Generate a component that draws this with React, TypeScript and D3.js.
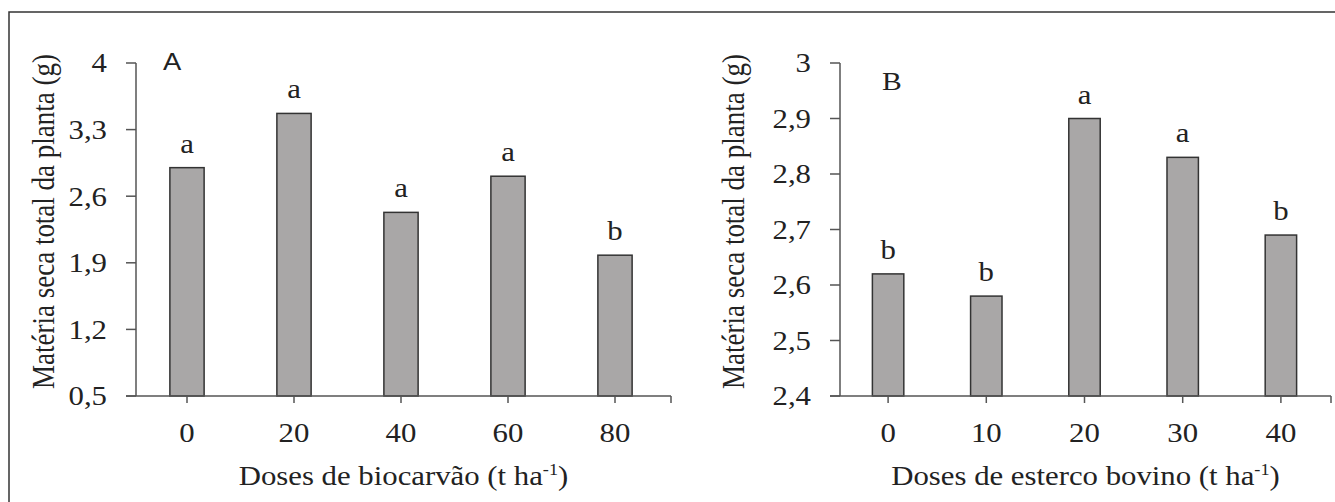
import * as d3 from "d3";
import type { ReactNode } from "react";

const dosesA = ["0", "20", "40", "60", "80"];
const valuesA = [2.9, 3.47, 2.43, 2.81, 1.98];
const lettersA = ["a", "a", "a", "a", "b"];
const ticksA = [0.5, 1.2, 1.9, 2.6, 3.3, 4];

const dosesB = ["0", "10", "20", "30", "40"];
const valuesB = [2.62, 2.58, 2.9, 2.83, 2.69];
const lettersB = ["b", "b", "a", "a", "b"];
const ticksB = [2.4, 2.5, 2.6, 2.7, 2.8, 2.9, 3];

const FONT = "'Liberation Serif', 'Times New Roman', serif";
const TOP = 63;
const BOTTOM = 396;
const FS = 27;
const SX = 1.14; // source image is slightly stretched horizontally

const fmt = (d: number) => String(d).replace(".", ",");

// text drawn at (x, y) with the horizontal stretch of the source picture
function T({
  x,
  y,
  anchor = "start",
  size = FS,
  dy,
  family,
  children,
}: {
  x: number;
  y: number;
  anchor?: string;
  size?: number;
  dy?: string;
  family?: string;
  children: ReactNode;
}) {
  return (
    <text
      transform={`translate(${x},${y}) scale(${SX},1)`}
      textAnchor={anchor}
      fontSize={size}
      dy={dy}
      fontFamily={family}
    >
      {children}
    </text>
  );
}

function Panel({
  doses,
  values,
  letters,
  ticks,
  axisX,
  range,
  axisEnd,
  yTitleX,
  xTitle,
  tag,
  tagX,
  tagY,
  tagSans,
}: {
  doses: string[];
  values: number[];
  letters: string[];
  ticks: number[];
  axisX: number;
  range: [number, number];
  axisEnd: number;
  yTitleX: number;
  xTitle: string;
  tag: string;
  tagX: number;
  tagY: number;
  tagSans: boolean;
}) {
  const x = d3.scaleBand().domain(doses).range(range).paddingInner(0.68).paddingOuter(0.34);
  const y = d3
    .scaleLinear()
    .domain([ticks[0], ticks[ticks.length - 1]])
    .range([BOTTOM, TOP]);
  const axisColor = "#555";
  const midX = (axisX + axisEnd) / 2;

  return (
    <g fontFamily={FONT} fill="#222">
      {/* y axis */}
      <line x1={axisX} x2={axisX} y1={TOP} y2={BOTTOM} stroke={axisColor} strokeWidth={1.5} />
      {ticks.map((t) => (
        <g key={t}>
          <line x1={axisX - 10} x2={axisX} y1={y(t)} y2={y(t)} stroke={axisColor} strokeWidth={1.5} />
          <T x={axisX - 29} y={y(t)} dy="0.35em" anchor="end">
            {fmt(t)}
          </T>
        </g>
      ))}
      {/* bars */}
      {doses.map((d, i) => (
        <g key={d}>
          <rect
            x={x(d)}
            y={y(values[i])}
            width={x.bandwidth()}
            height={BOTTOM - y(values[i])}
            fill="#a9a7a7"
            stroke="#333"
            strokeWidth={1.5}
          />
          <T x={(x(d) as number) + x.bandwidth() / 2} y={y(values[i]) - 15} anchor="middle">
            {letters[i]}
          </T>
        </g>
      ))}
      {/* x axis */}
      <line x1={axisX - 10} x2={axisEnd} y1={BOTTOM} y2={BOTTOM} stroke={axisColor} strokeWidth={1.5} />
      <line x1={axisEnd} x2={axisEnd} y1={BOTTOM} y2={BOTTOM + 7} stroke={axisColor} strokeWidth={1.5} />
      {doses.map((d) => {
        const cx = (x(d) as number) + x.bandwidth() / 2;
        return (
          <g key={d}>
            <line x1={cx} x2={cx} y1={BOTTOM} y2={BOTTOM + 7} stroke={axisColor} strokeWidth={1.5} />
            <T x={cx} y={442} anchor="middle">
              {d}
            </T>
          </g>
        );
      })}
      <T x={midX} y={485} anchor="middle">
        {xTitle}
        <tspan fontSize={16} dy={-10}>-1</tspan>
        <tspan dy={10}>)</tspan>
      </T>
      <text
        transform={`translate(${yTitleX},${(TOP + BOTTOM) / 2 - 8}) rotate(-90) scale(1,${SX})`}
        textAnchor="middle"
        dy="0.35em"
        fontSize={FS}
      >
        Matéria seca total da planta (g)
      </text>
      <T
        x={tagX}
        y={tagY}
        size={tagSans ? 24 : 26}
        family={tagSans ? "'Liberation Sans', Arial, sans-serif" : FONT}
      >
        {tag}
      </T>
    </g>
  );
}

export default function App() {
  return (
    <svg
      width={1335}
      height={502}
      style={{ position: "absolute", left: 0, top: 0, background: "#fff" }}
    >
      <rect x={9} y={12} width={1330} height={492} fill="#fff" stroke="#333" strokeWidth={1.5} />
      <Panel
        doses={dosesA}
        values={valuesA}
        letters={lettersA}
        ticks={ticksA}
        axisX={136}
        range={[133.5, 668.5]}
        axisEnd={671}
        yTitleX={43}
        xTitle="Doses de biocarvão (t ha"
        tag="A"
        tagX={163}
        tagY={70}
        tagSans={true}
      />
      <Panel
        doses={dosesB}
        values={valuesB}
        letters={lettersB}
        ticks={ticksB}
        axisX={840}
        range={[839, 1330]}
        axisEnd={1331}
        yTitleX={733}
        xTitle="Doses de esterco bovino (t ha"
        tag="B"
        tagX={882}
        tagY={90}
        tagSans={false}
      />
    </svg>
  );
}
